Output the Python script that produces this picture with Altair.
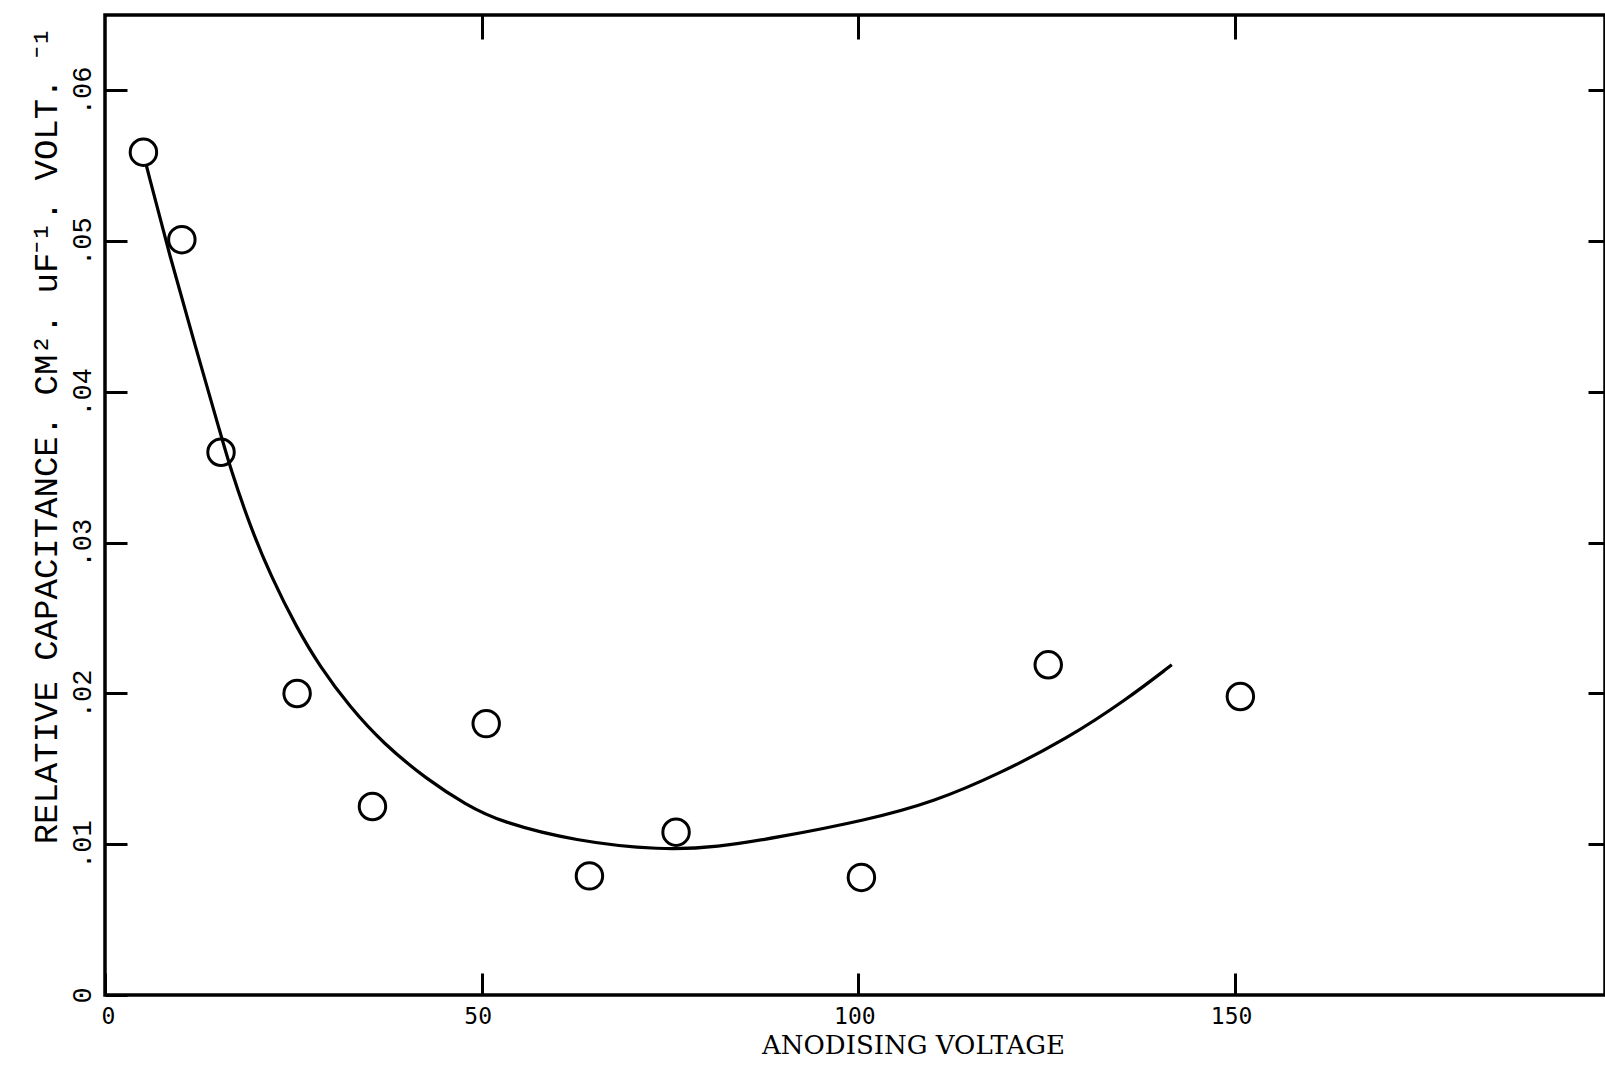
import json
import altair as alt
import pandas as pd

# Measured capacitance points
voltage = [5.1, 10.2, 15.4, 25.5, 35.5, 50.6, 64.3, 75.8, 100.4, 125.2, 150.7]
capacitance = [0.0559, 0.0501, 0.0360, 0.0200, 0.0125, 0.0180, 0.0079, 0.0108, 0.0078, 0.0219, 0.0198]

# Hand-drawn trend curve through the data
curve_v = [5.5, 8.6, 11.95, 15.3, 16.6, 19.25, 22.1, 25.4, 28.5, 32.5, 36.9, 42.7,
           48.0, 52.4, 62.4, 73.9, 81.2, 89.3, 101.1, 110.0, 118.8, 127.7, 135.6, 141.6]
curve_c = [0.0550, 0.0490, 0.0431, 0.0373, 0.0350, 0.0311, 0.0277, 0.0244, 0.0218, 0.0191,
           0.0167, 0.0143, 0.0126, 0.0115, 0.0102, 0.0096, 0.0098, 0.01045, 0.0116, 0.0128,
           0.0147, 0.0170, 0.0196, 0.0219]

x_ticks = [0, 50, 100, 150]
x_tick_labels = ["0", "50", "100", "150"]
y_ticks = [0, 0.01, 0.02, 0.03, 0.04, 0.05, 0.06]
y_tick_labels = ["0", ".01", ".02", ".03", ".04", ".05", ".06"]

x_title = "ANODISING VOLTAGE"
y_title = "RELATIVE CAPACITANCE. CM². uF⁻¹. VOLT. ⁻¹"

W, H = 1500, 980
X_DOMAIN = [0, 199.1]
Y_DOMAIN = [0, 0.065]

points = pd.DataFrame({"v": voltage, "c": capacitance})
curve = pd.DataFrame({"v": curve_v, "c": curve_c})


def label_expr(values, labels):
    return f"{json.dumps(labels)}[indexof({json.dumps(values)}, datum.value)]"


mono = "Liberation Mono"

x_scale = alt.Scale(domain=X_DOMAIN, nice=False, zero=False)
y_scale = alt.Scale(domain=Y_DOMAIN, nice=False, zero=False)

# Bottom and left axes carry labels; ticks point into the frame via negative offset
x_bottom = alt.Axis(
    orient="bottom", offset=-22, tickSize=22, values=x_ticks,
    labelExpr=label_expr(x_ticks, x_tick_labels), labelPadding=10,
    labelBaseline="top", labelFont="DejaVu Sans Mono", labelFontSize=23,
    labelOffset=-4,
    title=x_title, titleFont="DejaVu Serif", titleFontSize=26,
    titleFontWeight="normal", titleX=808, titleY=80,
    titleBaseline="alphabetic", titleAlign="center",
)
y_left = alt.Axis(
    orient="left", offset=-22, tickSize=22, values=y_ticks,
    labelExpr=label_expr(y_ticks, y_tick_labels), labelAngle=270,
    labelAlign="center", labelBaseline="alphabetic", labelPadding=15,
    labelFont=mono, labelFontSize=27,
    title=y_title, titleFont=mono, titleFontSize=34, titleFontWeight="normal",
    titleAngle=270, titleX=-71, titleY=420, titleAlign="center",
    titleBaseline="alphabetic",
)
# Top and right axes: ticks only
x_top = alt.Axis(orient="top", offset=-24, tickSize=24, values=[50, 100, 150],
                 labels=False, title=None)
y_right = alt.Axis(orient="right", offset=-17, tickSize=17, values=y_ticks[1:],
                   labels=False, title=None)

dots = alt.Chart(points).mark_point(
    shape="circle", filled=False, size=700, strokeWidth=3, color="black", opacity=1
).encode(
    x=alt.X("v:Q", scale=x_scale, axis=x_bottom),
    y=alt.Y("c:Q", scale=y_scale, axis=y_left),
)

trend = alt.Chart(curve).mark_line(
    color="black", strokeWidth=3.2, interpolate="basis"
).encode(
    x=alt.X("v:Q", scale=x_scale, axis=x_top),
    y=alt.Y("c:Q", scale=y_scale, axis=y_right),
)

chart = alt.layer(dots, trend).resolve_axis(
    x="independent", y="independent"
).properties(
    width=W, height=H,
    autosize=alt.AutoSizeParams(type="none"),
    padding={"left": 105, "top": 15, "right": 0, "bottom": 80},
    background="white",
).configure_view(
    stroke="black", strokeWidth=3.5
).configure_axis(
    domain=False, grid=False, tickColor="black", tickWidth=3,
    labelColor="black", titleColor="black",
)

chart.save("out.html", embed_options={"renderer": "svg", "actions": False})
